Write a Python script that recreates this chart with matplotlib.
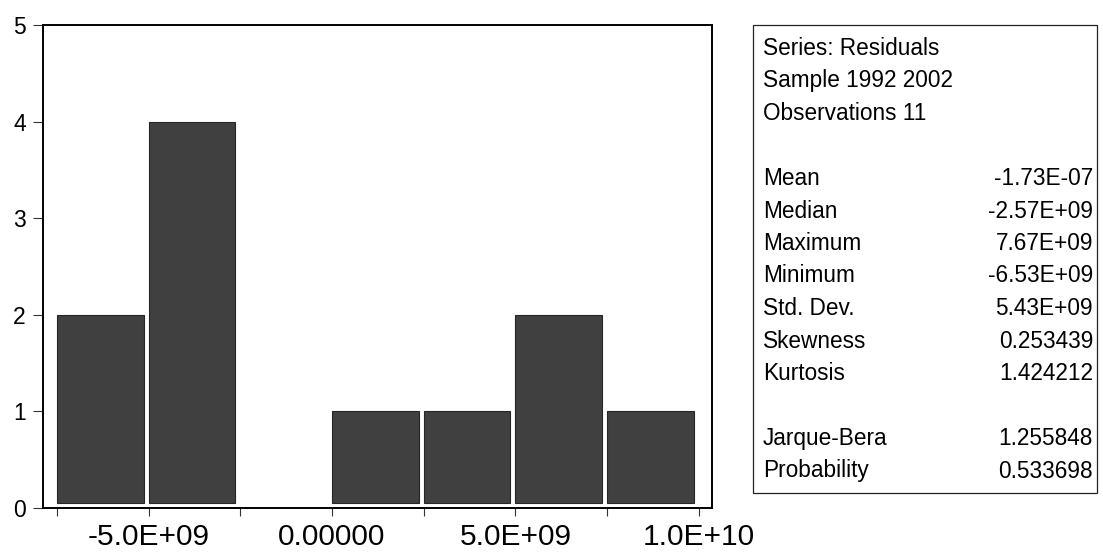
import matplotlib
matplotlib.use("Agg")
import matplotlib.pyplot as plt
from matplotlib.patches import Rectangle

# ---- data ----
bin_edges = [-7.5e9, -5.0e9, -2.5e9, 0.0, 2.5e9, 5.0e9, 7.5e9, 10.0e9]
counts = [2, 4, 0, 1, 1, 2, 1]
xtick_major = [-5.0e9, 0.0, 5.0e9, 1.0e10]
xtick_labels = ["-5.0E+09", "0.00000", "5.0E+09", "1.0E+10"]
xtick_minor = [-7.5e9, -2.5e9, 2.5e9, 7.5e9]
ytick_values = [0, 1, 2, 3, 4, 5]

header_lines = ["Series: Residuals", "Sample 1992 2002", "Observations 11"]
stat_names = ["Mean", "Median", "Maximum", "Minimum", "Std. Dev.",
              "Skewness", "Kurtosis", "", "Jarque-Bera", "Probability"]
stat_values = ["-1.73E-07", "-2.57E+09", "7.67E+09", "-6.53E+09", "5.43E+09",
               "0.253439", "1.424212", "", "1.255848", "0.533698"]

FONT = ["Liberation Sans", "DejaVu Sans"]
plt.rcParams["font.family"] = FONT

W, H = 1103, 552
fig = plt.figure(figsize=(W / 100, H / 100), dpi=100)

def fx(px):
    return px / W

def fy(py):
    return 1 - py / H

# histogram axes
ax = fig.add_axes([fx(43), fy(508), fx(712) - fx(43), fy(25) - fy(508)])
base = 0.05
widths = [(bin_edges[i + 1] - bin_edges[i]) * 0.945 for i in range(len(counts))]
heights = [max(c - base, 0) for c in counts]
for left, w, h, c in zip(bin_edges[:-1], widths, heights, counts):
    if c > 0:
        ax.bar(left, h, width=w, bottom=base, align="edge",
               color="#404040", edgecolor="#262626", linewidth=0.8, zorder=2)

ax.set_xlim(-7.88e9, 10.36e9)
ax.set_ylim(0, 5)
ax.set_yticks(ytick_values)
ax.set_yticklabels([str(v) for v in ytick_values], fontsize=16.5)
ax.set_xticks(xtick_major)
ax.set_xticklabels(xtick_labels, fontsize=21.5)
ax.set_xticks(xtick_minor, minor=True)
ax.tick_params(axis="y", direction="out", length=7, width=0.8, pad=5.5, color="#333333")
ax.tick_params(axis="x", which="both", direction="out", length=6, width=0.8, pad=5, color="#333333")
for sp in ax.spines.values():
    sp.set_linewidth(1.4)
    sp.set_color("black")

# statistics box
fig.patches.append(Rectangle((fx(753), fy(493)), fx(1097) - fx(753), fy(25) - fy(493),
                             transform=fig.transFigure, fill=False,
                             edgecolor="#222222", linewidth=0.9))
line_h = 32.5
y0 = 55
lines_left = header_lines + [""] + stat_names
lines_right = ["", "", "", ""] + stat_values
for i, (lt, rt) in enumerate(zip(lines_left, lines_right)):
    yb = y0 + i * line_h
    if lt:
        fig.text(fx(763), fy(yb), lt, fontsize=16.3, ha="left", va="baseline")
    if rt:
        fig.text(fx(1093), fy(yb), rt, fontsize=16.3, ha="right", va="baseline")

fig.savefig("out.png", dpi=100)
